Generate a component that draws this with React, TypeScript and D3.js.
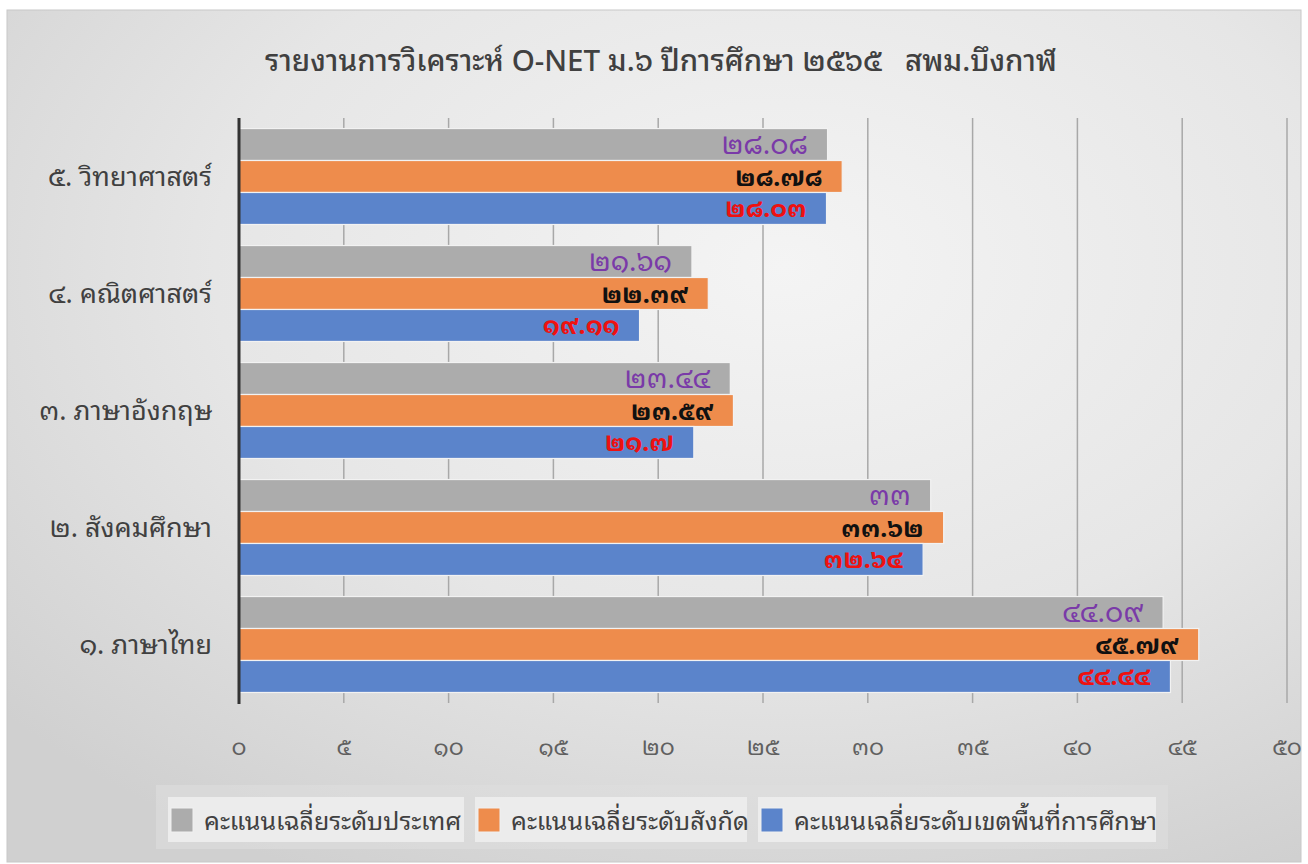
import React from "react";
import * as d3 from "d3";

const TITLE = "รายงานการวิเคราะห์ O-NET ม.๖ ปีการศึกษา ๒๕๖๕   สพม.บึงกาฬ";
const categories = ["๕. วิทยาศาสตร์", "๔. คณิตศาสตร์", "๓. ภาษาอังกฤษ", "๒. สังคมศึกษา", "๑. ภาษาไทย"];
const seriesNames = ["คะแนนเฉลี่ยระดับประเทศ", "คะแนนเฉลี่ยระดับสังกัด", "คะแนนเฉลี่ยระดับเขตพื้นที่การศึกษา"];
const nationalValues = [28.08, 21.61, 23.44, 33, 44.09];
const affiliationValues = [28.78, 22.39, 23.59, 33.62, 45.79];
const areaValues = [28.03, 19.11, 21.7, 32.64, 44.44];
const tickValues = [0, 5, 10, 15, 20, 25, 30, 35, 40, 45, 50];

const seriesColors = ["#acacac", "#ee8c4c", "#5b84cb"];
const labelColors = ["#7a3aa8", "#111111", "#ee1111"];

const thaiDigits = "๐๑๒๓๔๕๖๗๘๙";
const toThai = (s: string) => s.replace(/[0-9]/g, (d) => thaiDigits[+d]);

const W = 1308;
const H = 864;
const FONT = "'Noto Sans Thai Looped', 'Leelawadee UI', Loma, Garuda, 'Noto Sans', 'Noto Sans Thai', Tahoma, sans-serif";

export default function App() {
  const series = [nationalValues, affiliationValues, areaValues];
  const x = d3.scaleLinear().domain([0, 50]).range([239, 1287]);
  const y = d3.scaleBand<string>().domain(categories).range([118, 703]).paddingInner(0.18).paddingOuter(0.09);
  const inner = d3.scaleBand<number>().domain([0, 1, 2]).range([0, y.bandwidth()]);

  const legendX = [168, 475, 758];
  const legendW = [296, 272, 398];

  return (
    <div style={{ position: "fixed", left: 0, top: 0, width: W, height: H, background: "#fff" }}>
      <svg width={W} height={H} style={{ display: "block" }} fontFamily={FONT}>
        <defs>
          <radialGradient id="bg" cx="0.6" cy="0.3" r="0.8">
            <stop offset="0" stopColor="#f4f4f4" />
            <stop offset="0.55" stopColor="#e6e6e6" />
            <stop offset="1" stopColor="#d0d0d0" />
          </radialGradient>
        </defs>
        <rect x={7} y={10} width={1294} height={852} fill="url(#bg)" stroke="#c8c8c8" strokeWidth={1} />

        <text x={661} y={71} textAnchor="middle" fontSize={29.5} fontWeight={500} fill="#404040" style={{ whiteSpace: "pre" }}>
          {TITLE}
        </text>

        {/* gridlines */}
        {tickValues.map((t) => (
          <line key={"g" + t} x1={x(t)} x2={x(t)} y1={118} y2={703} stroke="#a8a8a8" strokeWidth={1.5} />
        ))}

        {/* bars */}
        {categories.map((c, i) => (
          <g key={c}>
            {series.map((vals, s) => {
              const y0 = (y(c) as number) + (inner(s) as number);
              const h = inner.bandwidth();
              const xe = x(vals[i]);
              return (
                <g key={s}>
                  <rect x={x(0)} y={y0} width={xe - x(0)} height={h} fill={seriesColors[s]} stroke="#f2f2f2" strokeWidth={1.2} />
                  <text
                    x={xe - 20}
                    y={y0 + h / 2 + 9}
                    textAnchor="end"
                    fontSize={s === 0 ? 28 : 25}
                    fontWeight={s === 0 ? 400 : 700}
                    fill={labelColors[s]}
                  >
                    {toThai(String(vals[i]))}
                  </text>
                </g>
              );
            })}
            <text x={212} y={(y(c) as number) + y.bandwidth() / 2 + 9} textAnchor="end" fontSize={27} fill="#404040">
              {c}
            </text>
          </g>
        ))}

        {/* y axis line */}
        <line x1={x(0)} x2={x(0)} y1={118} y2={704} stroke="#333333" strokeWidth={3} />

        {/* tick labels */}
        {tickValues.map((t) => (
          <text key={"t" + t} x={x(t)} y={755} textAnchor="middle" fontSize={23} fill="#606060">
            {toThai(String(t))}
          </text>
        ))}

        {/* legend */}
        <rect x={156} y={785} width={1012} height={64} fill="#dedede" opacity={0.6} />
        {seriesNames.map((n, s) => (
          <g key={n}>
            <rect x={legendX[s]} y={797} width={legendW[s]} height={45} fill="#ececec" />
            <rect x={legendX[s] + 3} y={808} width={22} height={24} fill={seriesColors[s]} stroke="#f0f0f0" strokeWidth={1} />
            <text x={legendX[s] + 36} y={830} fontSize={25} fill="#404040">
              {n}
            </text>
          </g>
        ))}
      </svg>
    </div>
  );
}
